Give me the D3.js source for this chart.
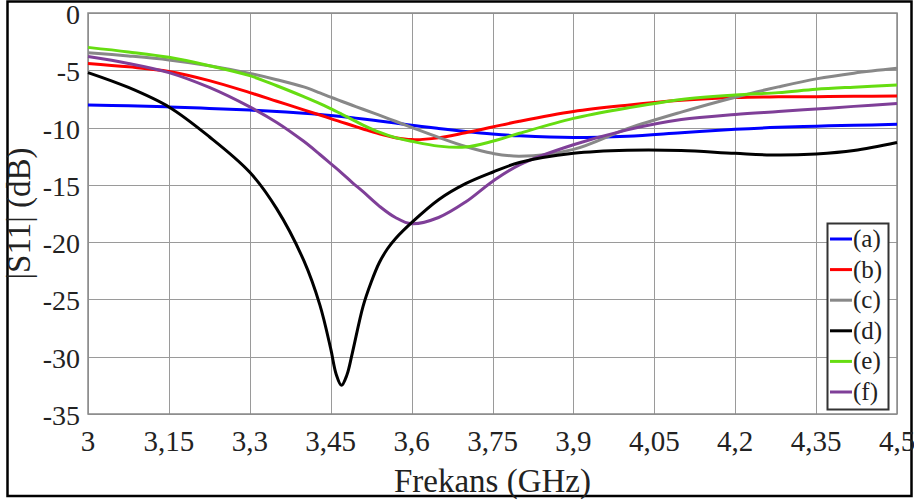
<!DOCTYPE html>
<html>
<head>
<meta charset="utf-8">
<script src="https://cdn.jsdelivr.net/npm/d3@7"></script>
<style>
  body { margin: 0; background: #fff; }
  svg text { font-family: "Liberation Serif", "DejaVu Serif", "Noto Serif", serif; }
</style>
</head>
<body>
<svg id="chart" width="914" height="501"></svg>
<script>
// Frequency grid (GHz) for the smooth curves
const freq = [3.0, 3.075, 3.15, 3.225, 3.3, 3.35, 3.4, 3.43, 3.45, 3.47, 3.49, 3.51, 3.54, 3.57,
  3.6, 3.65, 3.7, 3.75, 3.8, 3.9, 4.0, 4.1, 4.2, 4.28, 4.35, 4.42, 4.5];
// denser grid for (d), which has the deep, narrow dip
const freqD = [3.0, 3.075, 3.15, 3.225, 3.3, 3.35, 3.4, 3.43, 3.45, 3.46, 3.47, 3.48, 3.49, 3.51, 3.525,
  3.54, 3.555, 3.57, 3.6, 3.65, 3.7, 3.75, 3.8, 3.9, 4.0, 4.1, 4.2, 4.28, 4.35, 4.42, 4.5];

// |S11| in dB
const s11a = [-8.03, -8.1, -8.2, -8.33, -8.47, -8.6, -8.74, -8.85, -8.94, -9.04, -9.14, -9.25, -9.42, -9.6,
  -9.8, -10.08, -10.34, -10.56, -10.72, -10.87, -10.75, -10.45, -10.15, -9.98, -9.88, -9.8, -9.72];
const s11b = [-4.4, -4.7, -5.1, -5.9, -6.95, -7.7, -8.45, -8.9, -9.22, -9.52, -9.82, -10.12, -10.55, -10.88,
  -11.05, -10.9, -10.45, -9.95, -9.45, -8.6, -8.05, -7.62, -7.38, -7.32, -7.3, -7.27, -7.24];
const s11c = [-3.46, -3.75, -4.1, -4.6, -5.27, -5.82, -6.45, -6.98, -7.35, -7.7, -8.05, -8.4, -8.92, -9.45,
  -9.98, -10.85, -11.65, -12.25, -12.5, -11.9, -10.1, -8.65, -7.35, -6.45, -5.75, -5.25, -4.83];
const s11d = [-5.2, -6.5, -8.2, -10.8, -13.9, -17.1, -21.6, -25.5, -29.3, -31.5, -32.5, -31.6, -29.7, -25.6, -23.5,
  -21.8, -20.6, -19.7, -18.3, -16.3, -14.9, -13.9, -13.05, -12.25, -11.98, -12.0, -12.25, -12.4, -12.3, -12.0, -11.3];
const s11e = [-3.0, -3.4, -3.87, -4.6, -5.47, -6.35, -7.3, -7.9, -8.35, -8.82, -9.3, -9.78, -10.4, -10.88,
  -11.2, -11.62, -11.7, -11.2, -10.5, -9.2, -8.3, -7.55, -7.16, -6.95, -6.66, -6.47, -6.28];
const s11f = [-3.8, -4.4, -5.2, -6.5, -8.2, -9.55, -11.2, -12.35, -13.15, -13.95, -14.8, -15.6, -16.85, -17.85,
  -18.4, -17.85, -16.5, -14.7, -13.25, -11.5, -10.2, -9.3, -8.85, -8.6, -8.38, -8.15, -7.9];

const seriesNames = ["(a)", "(b)", "(c)", "(d)", "(e)", "(f)"];
const seriesColors = ["#0000ff", "#ff0000", "#888888", "#000000", "#66dd11", "#7f3f98"];
const seriesFreq = [freq, freq, freq, freqD, freq, freq];
const seriesValues = [s11a, s11b, s11c, s11d, s11e, s11f];

const xTicks = [3, 3.15, 3.3, 3.45, 3.6, 3.75, 3.9, 4.05, 4.2, 4.35, 4.5];
const yTicks = [0, -5, -10, -15, -20, -25, -30, -35];

const svg = d3.select("#chart");
const margin = { left: 88, top: 13, right: 17, bottom: 87 };
const W = 914, H = 501;

const x = d3.scaleLinear().domain([3, 4.5]).range([margin.left, W - margin.right]);
const y = d3.scaleLinear().domain([-35, 0]).range([H - margin.bottom, margin.top]);

// outer frame
svg.append("rect")
  .attr("x", 7.5).attr("y", 1.5).attr("width", 904).attr("height", 494.5)
  .attr("fill", "none").attr("stroke", "#000").attr("stroke-width", 2.5);

// grid
const grid = svg.append("g").attr("stroke", "#9a9a9a").attr("stroke-width", 1);
grid.selectAll(".vx").data(xTicks).join("line")
  .attr("x1", d => Math.round(x(d)) + 0.5).attr("x2", d => Math.round(x(d)) + 0.5)
  .attr("y1", y(0)).attr("y2", y(-35));
grid.selectAll(".hy").data(yTicks).join("line")
  .attr("y1", d => Math.round(y(d)) + 0.5).attr("y2", d => Math.round(y(d)) + 0.5)
  .attr("x1", x(3)).attr("x2", x(4.5));

// plot border
svg.append("rect")
  .attr("x", x(3)).attr("y", y(0))
  .attr("width", x(4.5) - x(3)).attr("height", y(-35) - y(0))
  .attr("fill", "none").attr("stroke", "#8a8a8a").attr("stroke-width", 1.5);

// tick labels
const fmt = d => String(d).replace(".", ",");
svg.append("g").selectAll("text").data(xTicks).join("text")
  .attr("x", d => x(d)).attr("y", 451)
  .attr("text-anchor", "middle")
  .attr("font-size", 29).attr("fill", "#222")
  .text(fmt);
svg.append("g").selectAll("text").data(yTicks).join("text")
  .attr("x", 80).attr("y", d => y(d) + 11)
  .attr("text-anchor", "end")
  .attr("font-size", 28).attr("fill", "#222")
  .text(d => String(d));

// axis titles
svg.append("text")
  .attr("x", (x(3) + x(4.5)) / 2).attr("y", 492)
  .attr("text-anchor", "middle").attr("font-size", 33).attr("fill", "#222")
  .text("Frekans (GHz)");
svg.append("text")
  .attr("transform", `translate(30,${(y(0) + y(-35)) / 2}) rotate(-90)`)
  .attr("text-anchor", "middle").attr("font-size", 33).attr("fill", "#222")
  .text("|S11| (dB)");

// curves
const line = d3.line()
  .x(d => x(d[0]))
  .y(d => y(d[1]))
  .curve(d3.curveCatmullRom.alpha(0.5));

const order = [0, 1, 2, 4, 5, 3];
svg.append("g").selectAll("path").data(order).join("path")
  .attr("d", i => line(d3.zip(seriesFreq[i], seriesValues[i])))
  .attr("fill", "none")
  .attr("stroke", i => seriesColors[i])
  .attr("stroke-width", 3);

// legend
const lg = svg.append("g");
lg.append("rect")
  .attr("x", 827.5).attr("y", 223.5).attr("width", 61).attr("height", 186)
  .attr("fill", "#fff").attr("stroke", "#333").attr("stroke-width", 2);
const item = lg.selectAll(".it").data(seriesNames).join("g")
  .attr("transform", (d, i) => `translate(0,${239 + i * 30.6})`);
item.append("line")
  .attr("x1", 830).attr("x2", 852).attr("y1", 0).attr("y2", 0)
  .attr("stroke", (d, i) => seriesColors[i]).attr("stroke-width", 3);
item.append("text")
  .attr("x", 853).attr("y", 8)
  .attr("font-size", 25).attr("fill", "#222")
  .text(d => d);
</script>
</body>
</html>
